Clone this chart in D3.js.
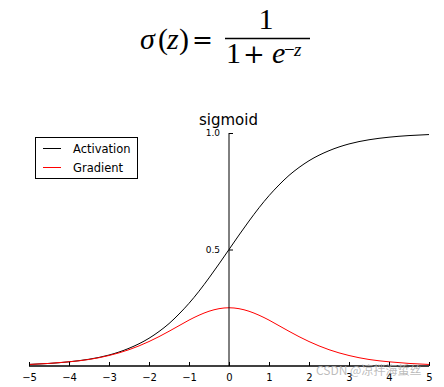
<!DOCTYPE html>
<html>
<head>
<meta charset="utf-8">
<script src="https://cdnjs.cloudflare.com/ajax/libs/d3/7.8.5/d3.min.js"></script>
<style>
  body { margin: 0; background: #fff; }
  svg { display: block; }
</style>
</head>
<body>
<div id="chart"></div>
<script>
// x samples, tick values and the two curves
var zs = [-5, -4.5, -4, -3.5, -3, -2.5, -2, -1.75, -1.5, -1.25, -1, -0.75, -0.5, -0.25, 0,
          0.25, 0.5, 0.75, 1, 1.25, 1.5, 1.75, 2, 2.5, 3, 3.5, 4, 4.5, 5];
var activation = [0.0067, 0.011, 0.018, 0.029, 0.047, 0.076, 0.119, 0.148, 0.182, 0.223, 0.269,
                  0.321, 0.378, 0.438, 0.5, 0.562, 0.622, 0.679, 0.731, 0.777, 0.818, 0.852,
                  0.881, 0.924, 0.953, 0.971, 0.982, 0.989, 0.9933];
var gradient = [0.0066, 0.011, 0.018, 0.028, 0.045, 0.070, 0.105, 0.126, 0.149, 0.173, 0.197,
                0.218, 0.235, 0.246, 0.25, 0.246, 0.235, 0.218, 0.197, 0.173, 0.149, 0.126,
                0.105, 0.070, 0.045, 0.028, 0.018, 0.011, 0.0066];
var xTicks = [-5, -4, -3, -2, -1, 0, 1, 2, 3, 4, 5];
var yTicks = [0.5, 1.0];
var seriesNames = ["Activation", "Gradient"];
var seriesColors = ["black", "red"];

var width = 444, height = 387;

var svg = d3.select("#chart").append("svg")
  .attr("width", width)
  .attr("height", height);

// formula at the top, piece by piece
var f = svg.append("g")
  .attr("font-family", "'Liberation Serif', 'DejaVu Serif', serif")
  .attr("font-size", 30);
f.append("text").attr("x", 140).attr("y", 49).attr("font-style", "italic").text("σ");
f.append("text").attr("x", 158).attr("y", 49).text("(");
f.append("text").attr("x", 167).attr("y", 49).attr("font-style", "italic").text("z");
f.append("text").attr("x", 179).attr("y", 49).text(")");
f.append("text").attr("x", 192).attr("y", 48).attr("font-family", "'DejaVu Serif', serif").attr("font-size", 25).text("=");
f.append("text").attr("x", 266).attr("y", 29).attr("text-anchor", "middle").text("1");
f.append("line")
  .attr("x1", 225).attr("x2", 310).attr("y1", 38.5).attr("y2", 38.5)
  .attr("stroke", "black").attr("stroke-width", 1.5);
f.append("text").attr("x", 226).attr("y", 63).text("1");
f.append("text").attr("x", 243).attr("y", 63).attr("font-family", "'DejaVu Serif', serif").attr("font-size", 26).text("+");
f.append("text").attr("x", 272).attr("y", 63).attr("font-style", "italic").text("e");
f.append("text").attr("x", 284).attr("y", 56).attr("font-size", 19).text("−");
f.append("text").attr("x", 294).attr("y", 56).attr("font-size", 19).attr("font-style", "italic").text("z");

var x = d3.scaleLinear().domain([-5, 5]).range([29, 429]);
var y = d3.scaleLinear().domain([0, 1]).range([366, 133]);

// title
svg.append("text")
  .attr("x", 228.5).attr("y", 125)
  .attr("text-anchor", "middle")
  .attr("font-family", "'DejaVu Sans', sans-serif")
  .attr("font-size", 15)
  .text("sigmoid");

// curves
var line = d3.line()
  .x(function(d, i) { return x(zs[i]); })
  .y(function(d) { return y(d); })
  .curve(d3.curveMonotoneX);

svg.append("path").datum(activation)
  .attr("d", line).attr("fill", "none")
  .attr("stroke", seriesColors[0]).attr("stroke-width", 1);
svg.append("path").datum(gradient)
  .attr("d", line).attr("fill", "none")
  .attr("stroke", seriesColors[1]).attr("stroke-width", 1);

// x axis at y = 0, ticks pointing up
var xAxis = svg.append("g")
  .attr("transform", "translate(0," + y(0) + ")")
  .call(d3.axisBottom(x).tickValues(xTicks).tickSize(-4).tickPadding(8)
    .tickFormat(function(d) { return d < 0 ? "\u2212" + Math.abs(d) : d; }));
xAxis.select(".domain").attr("d", "M" + x(-5) + ",0H" + x(5)).attr("stroke-width", 1.5);
xAxis.selectAll("text").attr("font-family", "'DejaVu Sans', sans-serif").attr("font-size", 10);

// y axis at x = 0, ticks pointing right
var yAxis = svg.append("g")
  .attr("transform", "translate(" + x(0) + ",0)")
  .call(d3.axisLeft(y).tickValues(yTicks).tickSize(-4).tickPadding(9).tickFormat(d3.format(".1f")));
yAxis.select(".domain").attr("d", "M0," + y(0) + "V" + y(1)).attr("stroke-width", 1);
yAxis.selectAll("text").attr("font-family", "'DejaVu Sans', sans-serif").attr("font-size", 9);

// legend
var legend = svg.append("g");
legend.append("rect")
  .attr("x", 35.5).attr("y", 137.5).attr("width", 102).attr("height", 41)
  .attr("fill", "white").attr("stroke", "black").attr("stroke-width", 1);
seriesNames.forEach(function(name, i) {
  var ly = 148.5 + i * 19;
  legend.append("line")
    .attr("x1", 43).attr("x2", 61).attr("y1", ly).attr("y2", ly)
    .attr("stroke", seriesColors[i]).attr("stroke-width", 1);
  legend.append("text")
    .attr("x", 73).attr("y", ly + 4)
    .attr("font-family", "'DejaVu Sans', sans-serif")
    .attr("font-size", 11.5)
    .text(name);
});

// watermark
svg.append("text")
  .attr("x", 316).attr("y", 375)
  .attr("font-family", "'Noto Sans CJK SC', sans-serif")
  .attr("font-size", 12)
  .attr("fill", "#b0b0b0")
  .attr("fill-opacity", 0.85)
  .text("CSDN @凉拌海蜇丝");
</script>
</body>
</html>
